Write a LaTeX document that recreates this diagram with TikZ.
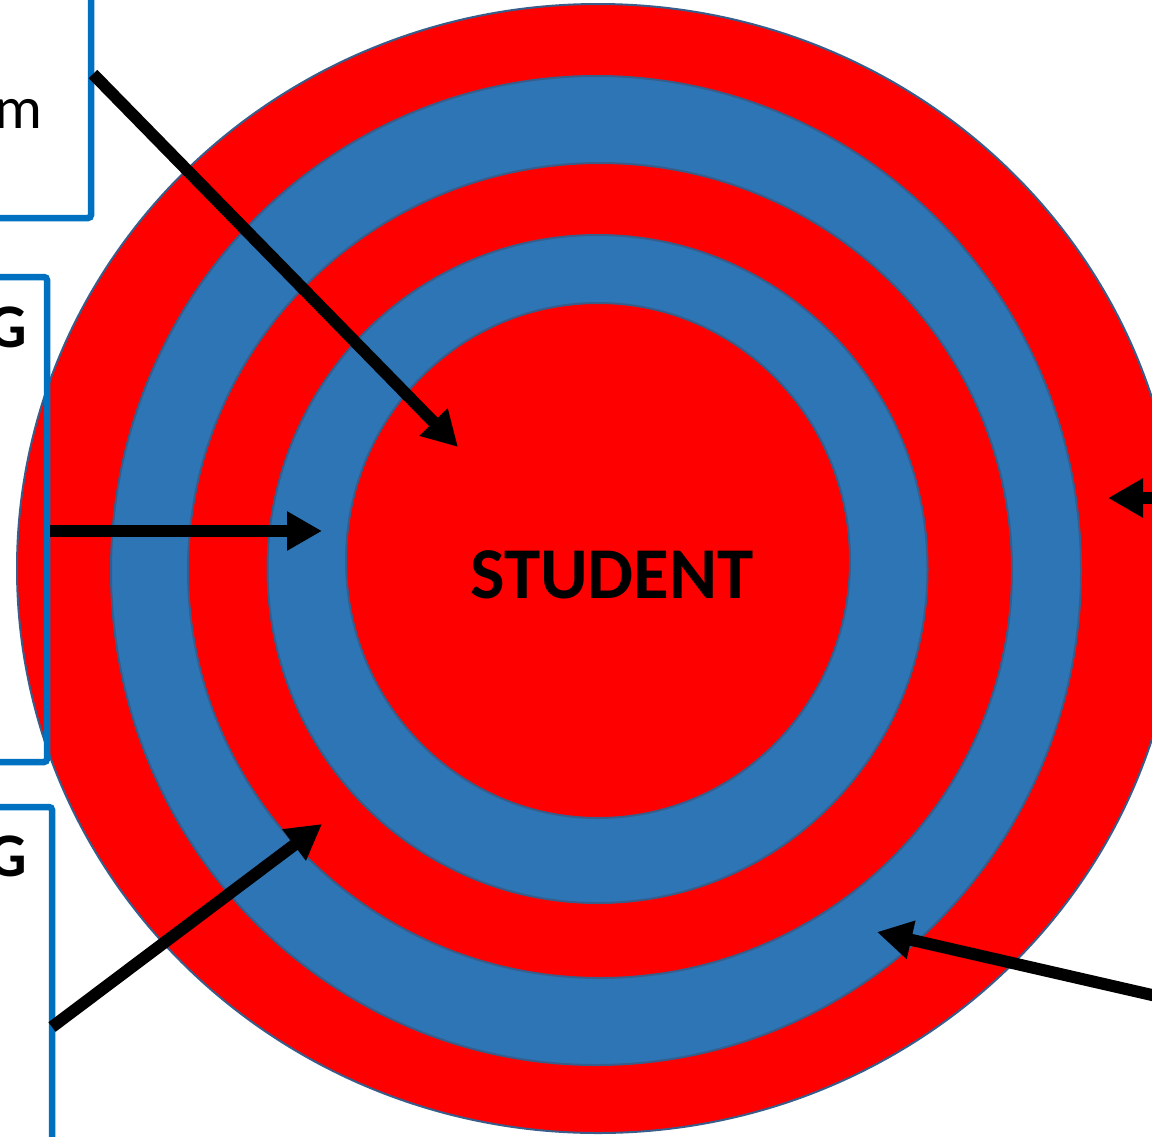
\documentclass[tikz,border=0pt]{standalone}
\usepackage{fontspec}
\setmainfont{Carlito}
\usetikzlibrary{arrows.meta}
\definecolor{ringred}{RGB}{255,0,0}
\definecolor{ringblue}{RGB}{46,117,182}
\definecolor{ringedge}{RGB}{56,93,138}
\definecolor{boxblue}{RGB}{0,112,192}
\tikzset{
  ring/.style={draw=ringedge, line width=2pt},
  redring/.style={ring, fill=ringred},
  bluering/.style={ring, fill=ringblue},
  sidebox/.style={draw=boxblue, line width=6.5pt, rounded corners=3pt, inner sep=0pt},
  fatarrow/.style={line width=12pt, -{Triangle[length=35pt,width=37pt]}},
  boxtext/.style={inner sep=0pt, anchor=base east, font=\fontsize{62}{70}\selectfont\bfseries},
}
\begin{document}
\begin{tikzpicture}[x=1pt,y=-1pt]
\useasboundingbox (0,0) rectangle (1152,1136);
\clip (0,0) rectangle (1152,1136);
% target rings
\draw[redring]  (598,568.5) ellipse [x radius=581, y radius=564.5];
\draw[bluering] (596,570.5) ellipse [x radius=485, y radius=494.5];
\draw[redring]  (600,570.5) ellipse [x radius=412, y radius=407.5];
\draw[bluering] (597.5,569) ellipse [x radius=330, y radius=334];
\draw[redring]  (598,560.5) ellipse [x radius=252, y radius=257.5];
\node[inner sep=0pt, anchor=base, font=\fontsize{73}{80}\selectfont\bfseries] (student) at (612,598) {STUDENT};
% side boxes
\node[sidebox, minimum width=291pt, minimum height=268pt] (box1) at (-54.5,84) {};
\node[sidebox, minimum width=247pt, minimum height=485pt] (box2) at (-76.5,519.5) {};
\node[sidebox, minimum width=252pt, minimum height=393pt] (box3) at (-74,1003.5) {};
\node[boxtext, font=\fontsize{60}{70}\selectfont] (t1) at (43,128) {m};
\node[boxtext] (t2) at (27,347) {G};
\node[boxtext] (t3) at (27,876) {G};
% arrow end points
\coordinate (a1s) at (93,74);
\coordinate (a1e) at (458,447);
\coordinate (a2s) at (50,531);
\coordinate (a2e) at (322,531);
\coordinate (a3s) at (52,1027);
\coordinate (a3e) at (322,824);
\coordinate (a4s) at (1200,498);
\coordinate (a4e) at (1108,498);
\coordinate (a5s) at (1200,1006);
\coordinate (a5e) at (877,932);
\draw[fatarrow] (a1s) -- (a1e);
\draw[fatarrow] (a2s) -- (a2e);
\draw[fatarrow] (a3s) -- (a3e);
\draw[fatarrow] (a4s) -- (a4e);
\draw[fatarrow] (a5s) -- (a5e);
\end{tikzpicture}
\end{document}
